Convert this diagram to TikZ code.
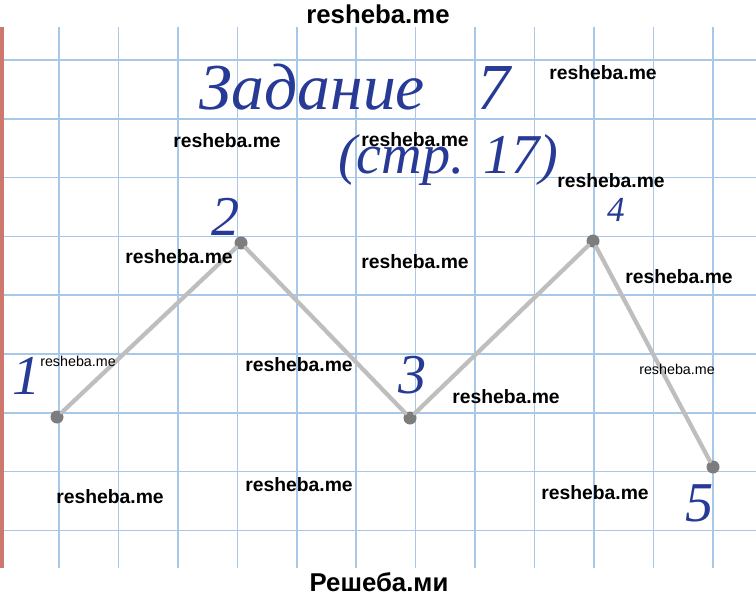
\documentclass[tikz,border=0pt]{standalone}
\usepackage{fontspec}
\setmainfont{Liberation Serif}
\newfontfamily\wmfont{Liberation Sans}
\definecolor{ink}{RGB}{38,58,150}
\definecolor{gridblue}{RGB}{168,200,234}
\definecolor{marginred}{RGB}{205,120,110}
\definecolor{pencil}{RGB}{190,190,190}
\definecolor{pencildot}{RGB}{125,125,125}
\tikzset{
  gridline/.style={draw=gridblue, line width=1.3pt},
  vertex/.style={circle, fill=pencildot, minimum size=3.9mm, inner sep=0pt},
  pencilline/.style={draw=pencil, line width=3.6pt, line cap=round},
  hand/.style={text=ink, inner sep=0pt},
  wmark/.style={font=\wmfont\bfseries\fontsize{16.5}{16.5}\selectfont, inner sep=0pt},
  wsmall/.style={font=\wmfont\fontsize{12.2}{12.2}\selectfont, inner sep=0pt},
  wbig/.style={font=\wmfont\bfseries\fontsize{22}{22}\selectfont, inner sep=0pt}
}
\begin{document}
\begin{tikzpicture}[x=0.03cm, y=-0.03cm]
	\useasboundingbox (0,0) rectangle (756,597);
	\fill[white] (0,0) rectangle (756,597);

	% squared paper
	\foreach \i in {0,...,11}
		\draw[gridline] (59+59.45*\i,27) -- (59+59.45*\i,568);
	\foreach \j in {0,...,8}
		\draw[gridline] (0,60+58.8*\j) -- (756,60+58.8*\j);
	\fill[marginred] (0,27) rectangle (4,568);

	% title
	\node[hand, anchor=base west, font=\itshape\fontsize{56}{56}\selectfont] (title) at (199,110) {Задание\hspace{0.8em}7};
	\node[hand, anchor=base west, font=\itshape\fontsize{48}{48}\selectfont] (page) at (338,174) {(стр. 17)};

	% broken line
	\node[vertex] (p1) at (57,417) {};
	\node[vertex] (p2) at (241,243) {};
	\node[vertex] (p3) at (410,418) {};
	\node[vertex] (p4) at (593,241) {};
	\node[vertex] (p5) at (713,467) {};
	\draw[pencilline] (p1) -- (p2);
	\draw[pencilline] (p2) -- (p3);
	\draw[pencilline] (p3) -- (p4);
	\draw[pencilline] (p4) -- (p5);

	% numbers
	\node[hand, font=\itshape\fontsize{48}{48}\selectfont] (n1) at (27,376) {1};
	\node[hand, font=\itshape\fontsize{48}{48}\selectfont] (n2) at (226,217) {2};
	\node[hand, font=\itshape\fontsize{48}{48}\selectfont] (n3) at (413,375) {3};
	\node[hand, font=\itshape\fontsize{30}{30}\selectfont] (n4) at (616,210) {4};
	\node[hand, font=\itshape\fontsize{48}{48}\selectfont] (n5) at (700,503) {5};

	% watermarks
	\node[wbig] (top) at (378,14) {resheba.me};
	\node[wbig] (bottom) at (379,582) {Решеба.ми};
	\node[wmark] (w1) at (603,73) {resheba.me};
	\node[wmark] (w2) at (227,141) {resheba.me};
	\node[wmark] (w3) at (415,140) {resheba.me};
	\node[wmark] (w4) at (611,181) {resheba.me};
	\node[wmark] (w5) at (179,257) {resheba.me};
	\node[wmark] (w6) at (415,262) {resheba.me};
	\node[wmark] (w7) at (679,277) {resheba.me};
	\node[wmark] (w8) at (299,365) {resheba.me};
	\node[wmark] (w9) at (506,397) {resheba.me};
	\node[wmark] (w10) at (110,497) {resheba.me};
	\node[wmark] (w11) at (299,485) {resheba.me};
	\node[wmark] (w12) at (595,493) {resheba.me};
	\node[wsmall] (s1) at (78,361) {resheba.me};
	\node[wsmall] (s2) at (677,369) {resheba.me};
\end{tikzpicture}
\end{document}
